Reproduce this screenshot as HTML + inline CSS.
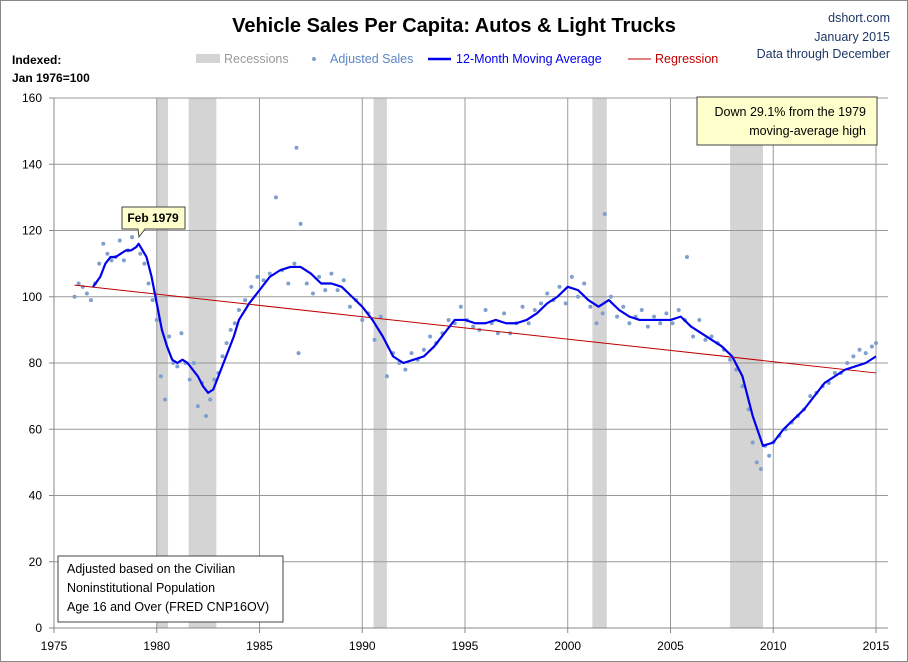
<!DOCTYPE html>
<html><head><meta charset="utf-8"><style>
body{margin:0;background:#fff;}
#wrap{position:relative;width:906px;height:660px;border:1px solid #888;overflow:hidden;font-family:"Liberation Sans",sans-serif;}
svg{position:absolute;left:0;top:0;}
</style></head><body>
<div id="wrap">
<svg id="chart" width="906" height="660"></svg>
</div>
<script>
const yTicks=[0,20,40,60,80,100,120,140,160];
const xTicks=[1975,1980,1985,1990,1995,2000,2005,2010,2015];
const recessions=[[1980.0,1980.55],[1981.55,1982.9],[1990.55,1991.2],[2001.2,2001.9],[2007.9,2009.5]];
const maYears=[1976.9,1977.25,1977.5,1977.75,1978.0,1978.25,1978.5,1978.75,1979.0,1979.12,1979.5,1979.75,1980.0,1980.25,1980.5,1980.75,1981.0,1981.25,1981.5,1981.75,1982.0,1982.25,1982.5,1982.75,1983.0,1983.25,1983.5,1983.75,1984.0,1984.5,1985.0,1985.5,1986.0,1986.5,1987.0,1987.5,1988.0,1988.5,1989.0,1989.5,1990.0,1990.5,1991.0,1991.5,1992.0,1992.5,1993.0,1993.5,1994.0,1994.5,1995.0,1995.5,1996.0,1996.5,1997.0,1997.5,1998.0,1998.5,1999.0,1999.5,2000.0,2000.5,2001.0,2001.5,2002.0,2002.5,2003.0,2003.5,2004.0,2004.5,2005.0,2005.5,2006.0,2006.5,2007.0,2007.5,2008.0,2008.5,2009.0,2009.5,2010.0,2010.5,2011.0,2011.5,2012.0,2012.5,2013.0,2013.5,2014.0,2014.5,2015.0];
const maValues=[103,106,110,112,112,113,114,114,115,116,112,106,98,90,85,81,80,81,80,78,76,73,71,72,76,80,84,88,93,98,102,106,108,109,109,107,104,104,103,100,97,93,88,82,80,81,82,85,89,93,93,92,92,93,92,92,93,95,98,100,103,102,99,97,99,96,94,93,93,93,93,94,91,89,87,85,82,76,64,55,56,60,63,66,70,74,76,78,79,80,82];
const salesYears=[1976.0,1976.2,1976.4,1976.6,1976.8,1977.0,1977.2,1977.4,1977.6,1977.8,1978.0,1978.2,1978.4,1978.6,1978.8,1979.0,1979.2,1979.4,1979.6,1979.8,1980.0,1980.2,1980.4,1980.6,1980.8,1981.0,1981.2,1981.4,1981.6,1981.8,1982.0,1982.2,1982.4,1982.6,1982.8,1983.0,1983.2,1983.4,1983.6,1983.8,1984.0,1984.3,1984.6,1984.9,1985.2,1985.5,1985.8,1986.1,1986.4,1986.7,1986.8,1986.9,1987.0,1987.3,1987.6,1987.9,1988.2,1988.5,1988.8,1989.1,1989.4,1989.7,1990.0,1990.3,1990.6,1990.9,1991.2,1991.5,1991.8,1992.1,1992.4,1992.7,1993.0,1993.3,1993.6,1993.9,1994.2,1994.5,1994.8,1995.1,1995.4,1995.7,1996.0,1996.3,1996.6,1996.9,1997.2,1997.5,1997.8,1998.1,1998.4,1998.7,1999.0,1999.3,1999.6,1999.9,2000.2,2000.5,2000.8,2001.1,2001.4,2001.7,2001.8,2002.1,2002.4,2002.7,2003.0,2003.3,2003.6,2003.9,2004.2,2004.5,2004.8,2005.1,2005.4,2005.7,2005.8,2006.1,2006.4,2006.7,2007.0,2007.3,2007.6,2007.9,2008.2,2008.5,2008.8,2009.0,2009.2,2009.4,2009.6,2009.8,2010.0,2010.3,2010.6,2010.9,2011.2,2011.5,2011.8,2012.1,2012.4,2012.7,2013.0,2013.3,2013.6,2013.9,2014.2,2014.5,2014.8,2015.0];
const salesValues=[100,104,103,101,99,104,110,116,113,111,112,117,111,114,118,121,113,110,104,99,93,76,69,88,80,79,89,80,75,80,67,74,64,69,75,77,82,86,90,92,96,99,103,106,105,107,130,108,104,110,145,83,122,104,101,106,102,107,102,105,97,99,93,95,87,94,76,83,80,78,83,81,84,88,86,89,93,92,97,93,91,90,96,92,89,95,89,92,97,92,96,98,101,99,103,98,106,100,104,97,92,95,125,100,94,97,92,94,96,91,94,92,95,92,96,93,112,88,93,87,88,86,84,81,78,73,66,56,50,48,55,52,56,58,60,62,64,66,70,71,73,74,77,77,80,82,84,83,85,86];
const regYears=[1976,2015];
const regValues=[103.5,77];

const svg=document.getElementById('chart');
const NS='http://www.w3.org/2000/svg';
const X0=53,X1=875,XR=887,Y0=627,Y1=97;
const xs=v=>X0+(v-1975)/(2015-1975)*(X1-X0);
const ys=v=>Y0-v/160*(Y0-Y1);
function mk(tag,attrs,parent){const e=document.createElementNS(NS,tag);for(const k in attrs)e.setAttribute(k,attrs[k]);(parent||svg).appendChild(e);return e;}
function txt(s,attrs){const t=mk('text',attrs);t.textContent=s;return t;}

const plot=mk('rect',{x:X0,y:Y1,width:XR-X0,height:Y0-Y1,fill:'#fff',stroke:'none'});


recessions.forEach(r=>{const e=mk('rect',{x:xs(r[0]),y:Y1,width:xs(r[1])-xs(r[0]),height:Y0-Y1,fill:'#d4d4d4'});

});
yTicks.forEach(v=>{const l=mk('line',{x1:X0,x2:XR,y1:ys(v),y2:ys(v),stroke:'#999','stroke-width':1});


const t=txt(v,{x:X0-12,y:ys(v)+4,'text-anchor':'end','font-size':12,fill:'#000'});


mk('line',{x1:X0-5,x2:X0,y1:ys(v),y2:ys(v),stroke:'#888'});});
xTicks.forEach(v=>{const l=mk('line',{x1:xs(v),x2:xs(v),y1:Y1,y2:Y0,stroke:'#999','stroke-width':1});


const t=txt(v,{x:xs(v),y:Y0+22,'text-anchor':'middle','font-size':12,fill:'#000'});


mk('line',{x1:xs(v),x2:xs(v),y1:Y0,y2:Y0+5,stroke:'#888'});});
mk('line',{x1:X0,x2:X0,y1:Y1,y2:Y0,stroke:'#888'});
mk('line',{x1:X0,x2:XR,y1:Y0,y2:Y0,stroke:'#888'});
salesYears.forEach((yr,i)=>{const c=mk('circle',{cx:xs(yr),cy:ys(salesValues[i]),r:2,fill:'#7f9fcf'});

});
const reg=mk('line',{x1:xs(regYears[0]),y1:ys(regValues[0]),x2:xs(regYears[1]),y2:ys(regValues[1]),stroke:'#c00000','stroke-width':1});


const ma=mk('polyline',{points:maYears.map((y,i)=>xs(y)+','+ys(maValues[i])).join(' '),fill:'none',stroke:'#0000ee','stroke-width':2.2,'stroke-linejoin':'round'});


</script>
<svg width="906" height="660" style="position:absolute;left:0;top:0;font-family:'Liberation Sans',sans-serif">
<text x="454" y="32" text-anchor="middle" font-size="20" font-weight="bold" fill="#000">Vehicle Sales Per Capita: Autos &amp; Light Trucks</text>
<g font-size="12.5" fill="#1f3864" text-anchor="end">
<text x="890" y="22">dshort.com</text><text x="890" y="41">January 2015</text><text x="890" y="58">Data through December</text></g>
<text x="12" y="64" font-size="12" font-weight="bold">Indexed:</text>
<text x="12" y="82" font-size="12" font-weight="bold">Jan 1976=100</text>
<g font-size="12.5">
<rect x="196" y="54" width="24" height="9" fill="#d4d4d4"/>
<text x="224" y="63" fill="#999">Recessions</text>
<circle cx="314" cy="59" r="2" fill="#7f9fcf"/>
<text x="330" y="63" fill="#5b86c5">Adjusted Sales</text>
<line x1="428" x2="451" y1="59" y2="59" stroke="#0000ee" stroke-width="2.5"/>
<text x="456" y="63" fill="#0000ee">12-Month Moving Average</text>
<line x1="628" x2="651" y1="59" y2="59" stroke="#c00000"/>
<text x="655" y="63" fill="#c00000">Regression</text></g>
<g>
<path d="M122,207 H185 V229 H145 L139,237 L138,229 H122 Z" fill="#ffffcc" stroke="#444"/>
<text x="153" y="222" text-anchor="middle" font-size="12" font-weight="bold">Feb 1979</text></g>
<g>
<rect x="697" y="97" width="180" height="48" fill="#ffffcc" stroke="#444"/>
<text x="866" y="116" text-anchor="end" font-size="12.5">Down 29.1% from the 1979</text>
<text x="866" y="135" text-anchor="end" font-size="12.5">moving-average high</text></g>
<g>
<rect x="58" y="556" width="225" height="66" fill="#fff" stroke="#444"/>
<text x="67" y="573" font-size="12.5">Adjusted based on the Civilian</text>
<text x="67" y="592" font-size="12.5">Noninstitutional Population</text>
<text x="67" y="611" font-size="12.5">Age 16 and Over (FRED CNP16OV)</text></g>
</svg>
</body></html>
